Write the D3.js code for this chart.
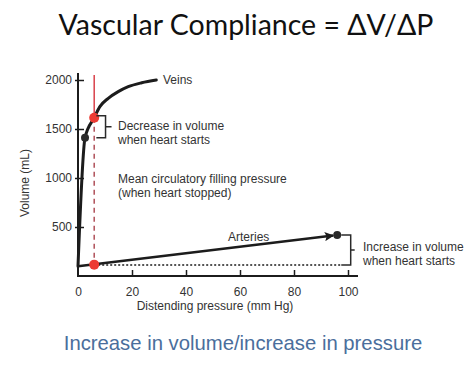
<!DOCTYPE html>
<html><head><meta charset="utf-8">
<script src="https://cdn.jsdelivr.net/npm/d3@7"></script>
<style>
html,body{margin:0;padding:0;background:#fff;}
svg{display:block;}
</style></head>
<body>
<script>
// ---- data ----
const xTicks = [0, 20, 40, 60, 80, 100];
const yTicks = [500, 1000, 1500, 2000];
const veinsPressure = [0, 2.6, 6, 8.1, 11.2, 14.9, 18.6, 23.6, 29];
const veinsVolume   = [100, 1410, 1615, 1728, 1813, 1881, 1932, 1972, 2000];
const arteriesPressure = [0, 96];
const arteriesVolume   = [100, 418];
const fillingPressure = 6;          // mean circulatory filling pressure
const veinsStartedPoint = [2.6, 1410]; // veins volume when heart starts
const veinsStoppedPoint = [6, 1615];   // veins volume when heart stopped
const arteriesStoppedPoint = [6, 116];
const arteriesStartedPoint = [96, 418];
const title = "Vascular Compliance = \u0394V/\u0394P";
const subtitle = "Increase in volume/increase in pressure";

const W = 474, H = 369;
const svg = d3.select("body").append("svg").attr("width", W).attr("height", H);

const x = d3.scaleLinear().domain([0, 100]).range([78, 348]);
const y = d3.scaleLinear().domain([0, 2000]).range([276, 80]);

const ink = "#1c1c1c", txt = "#333";
const font = "'Liberation Sans', Arial, sans-serif";

// title
svg.append("text").attr("x", 246).attr("y", 35).attr("text-anchor", "middle")
  .attr("font-family", "Lato, 'Open Sans', sans-serif").attr("font-size", 28.5)
  .attr("fill", "#111").text(title);

// subtitle
svg.append("text").attr("x", 243).attr("y", 350).attr("text-anchor", "middle")
  .attr("font-family", font).attr("font-size", 20.3)
  .attr("fill", "#4a6e9c").text(subtitle);

// axes
const xAxis = d3.axisBottom(x).tickValues(xTicks).tickSize(-6).tickPadding(11).tickFormat(d3.format("d"));
const gx = svg.append("g").attr("transform", `translate(0,${y(0)})`).call(xAxis);
gx.select(".domain").remove();
gx.append("line").attr("x1", 77).attr("x2", 358).attr("stroke", ink).attr("stroke-width", 2);
gx.selectAll(".tick line").attr("stroke", ink).attr("stroke-width", 1.5);
gx.selectAll(".tick text").attr("font-family", font).attr("font-size", 12).attr("fill", txt);
gx.selectAll(".tick").filter(d => d === 0).select("line").remove();

const yAxis = d3.axisLeft(y).tickValues(yTicks).tickSize(-6).tickPadding(6).tickFormat(d3.format("d"));
const gy = svg.append("g").attr("transform", `translate(${x(0)},0)`).call(yAxis);
gy.select(".domain").remove();
gy.append("line").attr("y1", 73).attr("y2", 277).attr("stroke", ink).attr("stroke-width", 2);
gy.selectAll(".tick line").attr("x1", -3).attr("stroke", ink).attr("stroke-width", 1.5);
gy.selectAll(".tick text").attr("font-family", font).attr("font-size", 12).attr("fill", txt);

// axis titles
svg.append("text").attr("x", 215).attr("y", 310).attr("text-anchor", "middle")
  .attr("font-family", font).attr("font-size", 12).attr("fill", txt)
  .text("Distending pressure (mm Hg)");
svg.append("text").attr("transform", "translate(29,183) rotate(-90)").attr("text-anchor", "middle")
  .attr("font-family", font).attr("font-size", 12).attr("fill", txt)
  .text("Volume (mL)");

// red vertical line (filling pressure)
svg.append("line").attr("x1", x(fillingPressure)).attr("x2", x(fillingPressure))
  .attr("y1", 75).attr("y2", y(veinsStoppedPoint[1]))
  .attr("stroke", "#d9414a").attr("stroke-width", 1.5);
svg.append("line").attr("x1", x(fillingPressure)).attr("x2", x(fillingPressure))
  .attr("y1", y(veinsStoppedPoint[1])).attr("y2", y(arteriesStoppedPoint[1]))
  .attr("stroke", "#b0505a").attr("stroke-width", 1.5).attr("stroke-dasharray", "5,4");

// dotted baseline
svg.append("line").attr("x1", x(fillingPressure)).attr("x2", x(97.5))
  .attr("y1", y(112)).attr("y2", y(112))
  .attr("stroke", ink).attr("stroke-width", 1.3).attr("stroke-dasharray", "2,2");

// veins curve
const veinsData = veinsPressure.map((p, i) => [p, veinsVolume[i]]);
const line = d3.line().x(d => x(d[0])).y(d => y(d[1])).curve(d3.curveMonotoneX);
svg.append("path").datum(veinsData).attr("d", line)
  .attr("fill", "none").attr("stroke", ink).attr("stroke-width", 3).attr("stroke-linecap", "round");

// arteries line with arrow
svg.append("defs").append("marker").attr("id", "arr")
  .attr("viewBox", "0 0 10 10").attr("refX", 9).attr("refY", 5)
  .attr("markerWidth", 3.6).attr("markerHeight", 3.6).attr("orient", "auto")
  .append("path").attr("d", "M0,0 L10,5 L0,10 L2,5 Z").attr("fill", ink);
const artData = arteriesPressure.map((p, i) => [p, arteriesVolume[i]]);
const artEnd = [arteriesPressure[1] - 1.5, arteriesVolume[0] + (arteriesVolume[1] - arteriesVolume[0]) * (arteriesPressure[1] - 1.5) / arteriesPressure[1]];
svg.append("path").datum([artData[0], artEnd]).attr("d", d3.line().x(d => x(d[0])).y(d => y(d[1])))
  .attr("fill", "none").attr("stroke", ink).attr("stroke-width", 2.6).attr("marker-end", "url(#arr)");

// dots
const dots = [
  {p: veinsStartedPoint, c: "#2a2a2a", r: 4},
  {p: arteriesStartedPoint, c: "#2a2a2a", r: 4},
  {p: veinsStoppedPoint, c: "#ec3b33", r: 5},
  {p: arteriesStoppedPoint, c: "#ec3b33", r: 5}
];
svg.selectAll("circle.dot").data(dots).enter().append("circle")
  .attr("cx", d => x(d.p[0])).attr("cy", d => y(d.p[1])).attr("r", d => d.r).attr("fill", d => d.c);

// brackets
function bracket(xa, xb, ya, yb, tickLen) {
  const ym = (ya + yb) / 2;
  svg.append("path")
    .attr("d", `M${xa},${ya} H${xb} V${yb} H${xa} M${xb},${ym} H${xb + tickLen}`)
    .attr("fill", "none").attr("stroke", "#2a2a2a").attr("stroke-width", 1.5);
}
bracket(x(6.8), x(10.2), y(1635), y(1410), 6);
bracket(x(97.5), x(101), y(arteriesStartedPoint[1]), y(112), 4);

// labels
function label(tx, ty, lines) {
  const t = svg.append("text").attr("font-family", font).attr("font-size", 12).attr("fill", txt);
  lines.forEach((s, i) => t.append("tspan").attr("x", tx).attr("y", ty + i * 13.5).text(s));
}
label(163, 84, ["Veins"]);
label(118, 130, ["Decrease in volume", "when heart starts"]);
label(118, 183, ["Mean circulatory filling pressure", "(when heart stopped)"]);
label(228, 241, ["Arteries"]);
label(363, 251, ["Increase in volume", "when heart starts"]);
</script>
</body></html>
